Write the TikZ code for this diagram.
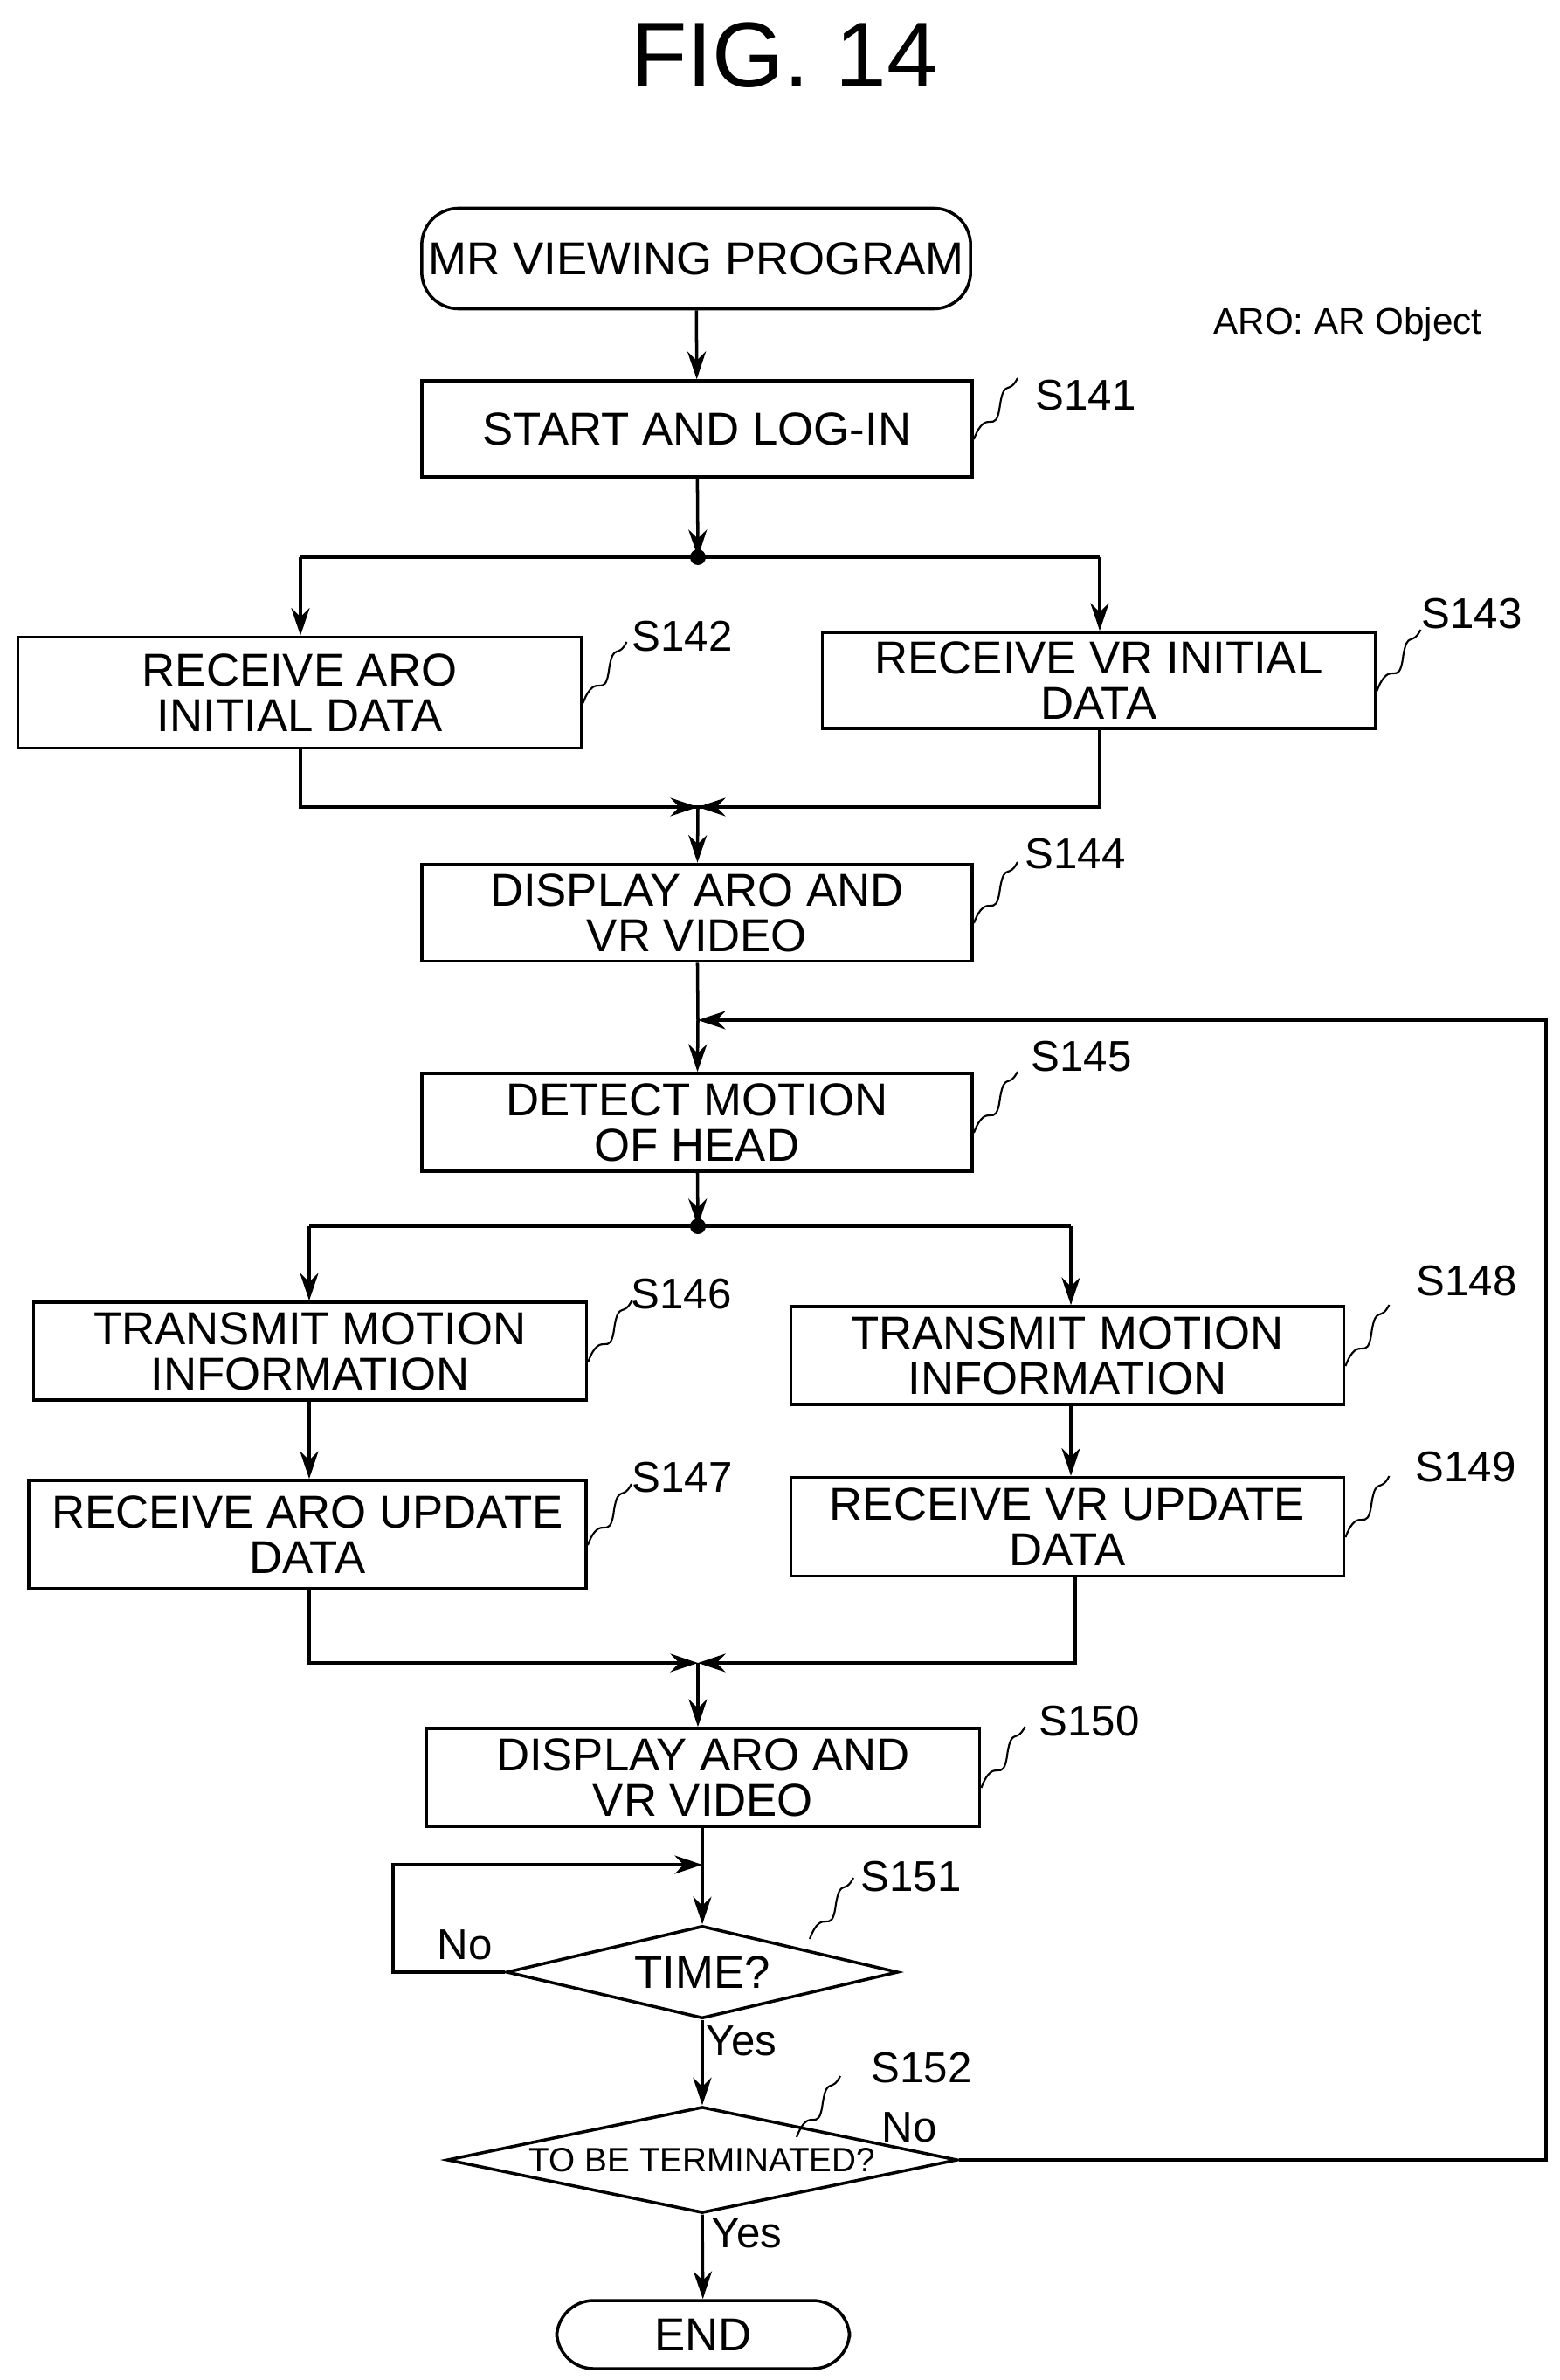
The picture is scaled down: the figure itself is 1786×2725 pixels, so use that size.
\documentclass[tikz,border=0pt]{standalone}
\usepackage{fontspec}
\setmainfont{Liberation Sans}
\usetikzlibrary{shapes.geometric,arrows.meta}
\begin{document}
\begin{tikzpicture}[x=0.01cm,y=-0.01cm,
  box/.style={draw,line width=1pt,align=center,inner sep=0pt,font=\fontsize{15}{15}\selectfont,text depth=0pt},
  dia/.style={draw,line width=1pt,diamond,aspect=4.2,inner sep=0pt},
  ln/.style={line width=1pt},
  ar/.style={ln,-{Stealth[length=9pt,width=6pt]}},
  lab/.style={font=\fontsize{14}{14}\selectfont},
  sq/.style={line width=0.6pt}]
\useasboundingbox (0,0) rectangle (1786,2725);
\node[font=\fontsize{30}{30}\selectfont] (title) at (898,63) {FIG. 14};
\node[font=\fontsize{12}{12}\selectfont] (aro) at (1543,372) {ARO: AR Object};

\node[box,rounded corners=12pt,minimum width=6.28cm,minimum height=1.15cm] (start) at (797,296) {MR VIEWING PROGRAM};
\node[box,minimum width=6.3cm,minimum height=1.1cm] (s141) at (798,491) {START AND LOG-IN};
\node[box,minimum width=6.45cm,minimum height=1.27cm] (s142) at (343,793) {RECEIVE ARO\\INITIAL DATA};
\node[box,minimum width=6.33cm,minimum height=1.1cm] (s143) at (1258,779) {RECEIVE VR INITIAL\\DATA};
\node[box,minimum width=6.3cm,minimum height=1.11cm] (s144) at (798,1045) {DISPLAY ARO AND\\VR VIDEO};
\node[box,minimum width=6.3cm,minimum height=1.12cm] (s145) at (798,1285) {DETECT MOTION\\OF HEAD};
\node[box,minimum width=6.33cm,minimum height=1.12cm] (s146) at (355,1547) {TRANSMIT MOTION\\INFORMATION};
\node[box,minimum width=6.33cm,minimum height=1.12cm] (s148) at (1222,1552) {TRANSMIT MOTION\\INFORMATION};
\node[box,minimum width=6.38cm,minimum height=1.24cm] (s147) at (352,1757) {RECEIVE ARO UPDATE\\DATA};
\node[box,minimum width=6.33cm,minimum height=1.13cm] (s149) at (1222,1748) {RECEIVE VR UPDATE\\DATA};
\node[box,minimum width=6.33cm,minimum height=1.12cm] (s150) at (805,2035) {DISPLAY ARO AND\\VR VIDEO};
\node[dia,minimum width=4.48cm,minimum height=1.06cm,font=\fontsize{15}{15}\selectfont] (s151) at (804,2258) {TIME?};
\node[dia,minimum width=5.84cm,minimum height=1.1cm,font=\fontsize{11}{11}\selectfont] (s152) at (804,2473) {TO BE TERMINATED?};
\node[box,rounded corners=12pt,minimum width=3.35cm,minimum height=0.78cm] (end) at (805,2673) {END};

% step labels
\foreach \n/\x/\y/\t in {s141/1243/453/S141,s142/781/729/S142,s143/1685/703/S143,s144/1231/978/S144,s145/1238/1210/S145,s146/780/1482/S146,s148/1679/1467/S148,s147/781/1692/S147,s149/1678/1680/S149,s150/1247/1971/S150}{
  \node[lab] (l\n) at (\x,\y) {\t};
  \draw[sq] (\n.east) ++(0,12) .. controls +(15,-40) and +(-5,40) .. ++(30,-40) .. controls +(5,-30) and +(-10,20) .. ++(20,-30);
}
\node[lab] (ls151) at (1043,2149) {S151};
\draw[sq] (927,2220) .. controls +(15,-40) and +(-5,40) .. ++(30,-40) .. controls +(5,-30) and +(-10,20) .. ++(20,-30);
\node[lab] (ls152) at (1055,2368) {S152};
\draw[sq] (912,2447) .. controls +(15,-40) and +(-5,40) .. ++(30,-40) .. controls +(5,-30) and +(-10,20) .. ++(20,-30);
\node[lab] (no1) at (532,2227) {No};
\node[lab] (yes1) at (849,2337) {Yes};
\node[lab] (no2) at (1041,2436) {No};
\node[lab] (yes2) at (855,2557) {Yes};

% connectors
\coordinate (j1) at (799,638);
\coordinate (j2) at (799,924);
\coordinate (j3) at (799,1404);
\coordinate (j4) at (799,1904);
\coordinate (r1) at (799,1168);
\coordinate (r2) at (804,2135);
\draw[ar] (start) -- (s141);
\draw[ar] (s141) -- (j1);
\fill (j1) circle (9);
\draw[ln] (344,638) -- (1259,638);
\draw[ar] (344,638) -- (s142.north-|344,0);
\draw[ar] (1259,638) -- (s143.north-|1259,0);
\draw[ln] (s142.south-|344,0) -- (344,924) -- (j2);
\draw[ln] (s143.south-|1259,0) -- (1259,924) -- (j2);
\draw[ar] (344,924) -- (j2);
\draw[ar] (1259,924) -- (j2);
\draw[ar] (j2) -- (s144);
\draw[ln] (s144) -- (r1);
\draw[ar] (r1) -- (s145);
\draw[ar] (s145) -- (j3);
\fill (j3) circle (9);
\draw[ln] (354,1404) -- (1226,1404);
\draw[ar] (354,1404) -- (s146.north-|354,0);
\draw[ar] (1226,1404) -- (s148.north-|1226,0);
\draw[ar] (s146.south-|354,0) -- (s147.north-|354,0);
\draw[ar] (s148.south-|1226,0) -- (s149.north-|1226,0);
\draw[ar] (s147.south-|354,0) -- (354,1904) -- (j4);
\draw[ar] (s149.south-|1231,0) -- (1231,1904) -- (j4);
\draw[ar] (j4) -- (s150.north-|799,0);
\draw[ln] (s150.south-|804,0) -- (r2);
\draw[ar] (r2) -- (s151);
\draw[ar] (s151.west) -- (450,2258) -- (450,2135) -- (r2);
\draw[ar] (s151.south) -- (s152.north);
\draw[ar] (s152.east) -- (1770,2473) -- (1770,1168) -- (r1);
\draw[ar] (s152.south) -- (end);
\end{tikzpicture}
\end{document}
